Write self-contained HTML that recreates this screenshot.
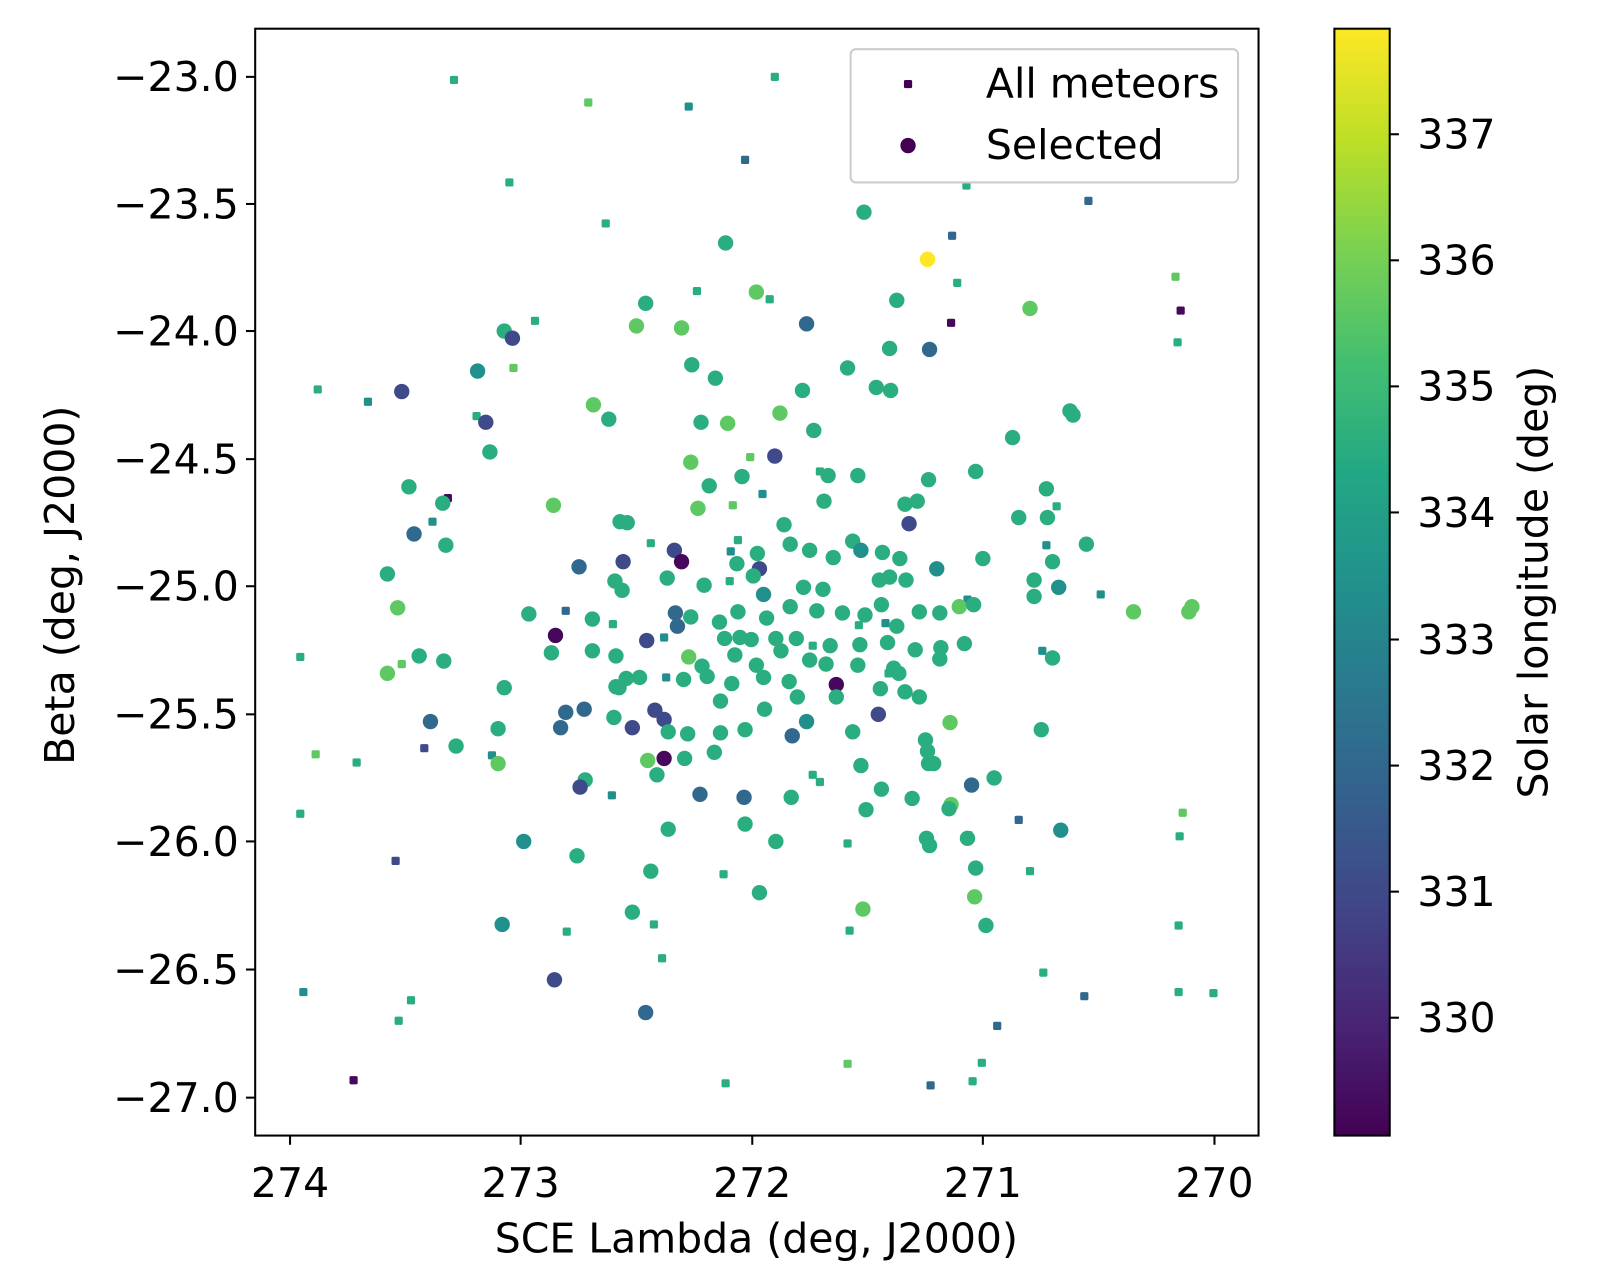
<!DOCTYPE html>
<html><head><meta charset="utf-8"><style>
html,body{margin:0;padding:0;background:#fff;}
svg{display:block;font-family:"DejaVu Sans","Liberation Sans",sans-serif;}
</style></head><body>
<svg id="s" width="1607" height="1277" viewBox="0 0 1568 1246" preserveAspectRatio="none" xmlns="http://www.w3.org/2000/svg">
<defs>
<linearGradient id="vir" x1="0" y1="1" x2="0" y2="0">
<stop offset="0" stop-color="#440154"/><stop offset="0.1" stop-color="#482475"/>
<stop offset="0.2" stop-color="#414487"/><stop offset="0.3" stop-color="#355f8d"/>
<stop offset="0.4" stop-color="#2a788e"/><stop offset="0.5" stop-color="#21918c"/>
<stop offset="0.6" stop-color="#22a884"/><stop offset="0.7" stop-color="#44bf70"/>
<stop offset="0.8" stop-color="#7ad151"/><stop offset="0.9" stop-color="#bddf26"/>
<stop offset="1" stop-color="#fde725"/>
</linearGradient>
</defs>
<rect x="0" y="0" width="1568" height="1246" fill="#fff"/>
<g id="pts"></g>
<rect x="249" y="28" width="979" height="1080" fill="none" stroke="#000" stroke-width="2"/>
<g stroke="#000" stroke-width="2">
<line x1="283" y1="1108" x2="283" y2="1117"/><line x1="508" y1="1108" x2="508" y2="1117"/>
<line x1="734" y1="1108" x2="734" y2="1117"/><line x1="959" y1="1108" x2="959" y2="1117"/>
<line x1="1185" y1="1108" x2="1185" y2="1117"/>
<line x1="240" y1="75" x2="249" y2="75"/><line x1="240" y1="199" x2="249" y2="199"/>
<line x1="240" y1="323" x2="249" y2="323"/><line x1="240" y1="448" x2="249" y2="448"/>
<line x1="240" y1="572" x2="249" y2="572"/><line x1="240" y1="697" x2="249" y2="697"/>
<line x1="240" y1="821" x2="249" y2="821"/><line x1="240" y1="946" x2="249" y2="946"/>
<line x1="240" y1="1071" x2="249" y2="1071"/>
</g>
<g font-size="40" fill="#000" text-anchor="middle">
<text x="283" y="1168">274</text><text x="508" y="1168">273</text><text x="734" y="1168">272</text>
<text x="959" y="1168">271</text><text x="1185" y="1168">270</text>
</g>
<g font-size="40" fill="#000" text-anchor="end">
<text x="233" y="89">−23.0</text><text x="233" y="213">−23.5</text><text x="233" y="337">−24.0</text>
<text x="233" y="462">−24.5</text><text x="233" y="586">−25.0</text><text x="233" y="711">−25.5</text>
<text x="233" y="835">−26.0</text><text x="233" y="960">−26.5</text><text x="233" y="1085">−27.0</text>
</g>
<text x="738" y="1222" font-size="40" text-anchor="middle">SCE Lambda (deg, J2000)</text>
<text transform="translate(72,571) rotate(-90)" font-size="40" text-anchor="middle">Beta (deg, J2000)</text>
<!-- legend -->
<rect x="830" y="48" width="378" height="130" rx="5" fill="#fff" fill-opacity="0.8" stroke="#ccc" stroke-width="2"/>
<rect x="882" y="78" width="8" height="8" rx="1.5" fill="#440154"/>
<circle cx="886" cy="142" r="7.5" fill="#440154"/>
<text x="962" y="95" font-size="40">All meteors</text>
<text x="962" y="155" font-size="40">Selected</text>
<!-- colorbar -->
<rect x="1302" y="28" width="54" height="1080" fill="url(#vir)" stroke="#000" stroke-width="2"/>
<g stroke="#000" stroke-width="2">
<line x1="1356" y1="131" x2="1365" y2="131"/><line x1="1356" y1="254" x2="1365" y2="254"/>
<line x1="1356" y1="377" x2="1365" y2="377"/><line x1="1356" y1="500" x2="1365" y2="500"/>
<line x1="1356" y1="624" x2="1365" y2="624"/><line x1="1356" y1="747" x2="1365" y2="747"/>
<line x1="1356" y1="870" x2="1365" y2="870"/><line x1="1356" y1="993" x2="1365" y2="993"/>
</g>
<g font-size="40" fill="#000">
<text x="1383" y="145">337</text><text x="1383" y="268">336</text><text x="1383" y="391">335</text>
<text x="1383" y="514">334</text><text x="1383" y="638">333</text><text x="1383" y="761">332</text>
<text x="1383" y="884">331</text><text x="1383" y="1007">330</text>
</g>
<text transform="translate(1510,568) rotate(-90)" font-size="40" text-anchor="middle">Solar longitude (deg)</text>
</svg>
<script>
var C={G:"#2aae7f",T:"#21908d",B:"#31688e",I:"#3e4a89",P:"#46085c",L:"#5ec962",Y:"#fde725"};
var sq=[[443,78,"G"],[756,75,"G"],[574,100,"L"],[672,104,"T"],[497,178,"G"],[727,156,"B"],[943,181,"G"],[1062,196,"B"],[591,218,"G"],[929,230,"B"],[680,284,"G"],[751,292,"G"],[934,276,"G"],[522,313,"G"],[928,315,"P"],[1147,270,"L"],[1152,303,"P"],[1149,334,"G"],[501,359,"L"],[310,380,"G"],[359,392,"T"],[465,406,"G"],[732,446,"L"],[800,460,"G"],[715,493,"L"],[744,482,"T"],[437,486,"P"],[422,509,"T"],[1031,494,"G"],[1021,532,"T"],[635,530,"G"],[720,527,"G"],[713,538,"T"],[552,596,"B"],[598,609,"G"],[944,585,"T"],[712,567,"G"],[1074,580,"T"],[293,641,"G"],[392,648,"L"],[648,622,"T"],[650,661,"T"],[838,610,"G"],[864,608,"T"],[1017,635,"T"],[867,657,"G"],[793,630,"G"],[480,737,"T"],[414,730,"I"],[348,744,"G"],[308,736,"L"],[597,776,"T"],[793,756,"G"],[800,763,"G"],[293,794,"G"],[994,800,"B"],[706,853,"G"],[827,823,"G"],[945,815,"G"],[1005,850,"G"],[1154,793,"L"],[1151,816,"G"],[386,840,"I"],[638,902,"G"],[553,909,"G"],[829,908,"G"],[1150,903,"G"],[646,935,"G"],[1018,949,"G"],[296,968,"T"],[401,976,"G"],[389,996,"G"],[1058,972,"B"],[1150,968,"G"],[1184,969,"G"],[973,1001,"B"],[958,1037,"G"],[345,1054,"P"],[708,1057,"G"],[908,1059,"B"],[949,1055,"G"],[827,1038,"L"]];
var ci=[[843,207,"G"],[708,237,"G"],[905,253,"Y"],[738,285,"L"],[787,316,"B"],[630,296,"G"],[621,318,"L"],[665,320,"L"],[492,323,"G"],[500,330,"I"],[875,293,"G"],[1005,301,"L"],[907,341,"B"],[466,362,"T"],[392,382,"I"],[474,412,"I"],[478,441,"G"],[675,356,"G"],[698,369,"G"],[783,381,"G"],[827,359,"G"],[868,340,"G"],[855,378,"G"],[869,381,"G"],[579,395,"L"],[594,409,"G"],[684,412,"G"],[710,413,"L"],[761,403,"L"],[794,420,"G"],[988,427,"G"],[1044,401,"G"],[1047,405,"G"],[756,445,"I"],[674,451,"L"],[399,475,"G"],[692,474,"G"],[724,465,"G"],[808,464,"G"],[837,464,"G"],[906,468,"G"],[952,460,"G"],[1021,477,"G"],[540,493,"L"],[432,491,"G"],[404,521,"B"],[435,532,"G"],[605,509,"G"],[612,510,"G"],[681,496,"L"],[765,512,"G"],[804,489,"G"],[883,492,"G"],[895,489,"G"],[887,511,"I"],[994,505,"G"],[1022,505,"G"],[959,545,"G"],[1060,531,"G"],[378,560,"G"],[565,553,"B"],[608,548,"I"],[658,537,"I"],[665,548,"P"],[600,567,"G"],[651,564,"G"],[687,571,"G"],[719,550,"G"],[739,540,"G"],[771,531,"G"],[790,537,"G"],[813,544,"G"],[832,528,"G"],[840,537,"T"],[861,539,"G"],[878,545,"G"],[914,555,"T"],[1027,548,"G"],[388,593,"L"],[516,599,"G"],[607,576,"G"],[659,598,"B"],[741,555,"I"],[735,562,"G"],[745,580,"T"],[784,573,"G"],[803,575,"G"],[858,566,"G"],[868,563,"G"],[884,566,"G"],[1009,566,"G"],[1009,582,"G"],[1033,573,"T"],[936,592,"L"],[950,590,"G"],[1106,597,"L"],[1160,597,"L"],[1163,592,"L"],[542,620,"P"],[578,604,"G"],[661,611,"B"],[674,602,"G"],[702,607,"G"],[720,597,"G"],[748,603,"G"],[771,592,"G"],[797,596,"G"],[822,598,"G"],[844,600,"G"],[860,590,"G"],[875,611,"G"],[897,597,"G"],[917,598,"G"],[707,623,"G"],[722,622,"G"],[733,624,"G"],[757,623,"G"],[777,623,"G"],[810,630,"G"],[839,629,"G"],[866,627,"G"],[893,634,"G"],[918,632,"G"],[941,628,"G"],[409,640,"G"],[433,645,"G"],[378,657,"L"],[538,637,"G"],[578,635,"G"],[601,640,"G"],[631,625,"I"],[672,641,"L"],[685,650,"G"],[717,639,"G"],[738,649,"G"],[762,635,"G"],[790,644,"G"],[806,648,"G"],[837,649,"G"],[872,652,"G"],[917,643,"G"],[1027,642,"G"],[492,671,"G"],[601,670,"G"],[611,662,"G"],[624,661,"G"],[604,671,"G"],[667,663,"G"],[690,660,"G"],[714,667,"G"],[745,661,"G"],[770,665,"G"],[816,668,"P"],[859,672,"G"],[877,657,"G"],[420,704,"B"],[552,695,"B"],[570,692,"B"],[599,700,"G"],[639,693,"I"],[648,702,"I"],[703,684,"G"],[746,692,"G"],[778,680,"G"],[816,680,"G"],[857,697,"I"],[883,675,"G"],[897,680,"G"],[927,705,"L"],[1016,712,"G"],[486,711,"G"],[547,710,"B"],[617,710,"I"],[652,714,"G"],[671,716,"G"],[703,715,"G"],[727,712,"G"],[773,718,"B"],[787,704,"T"],[832,714,"G"],[903,722,"G"],[445,728,"G"],[486,745,"L"],[632,742,"L"],[648,740,"P"],[641,756,"G"],[668,740,"G"],[697,734,"G"],[840,747,"G"],[905,733,"G"],[906,745,"G"],[911,745,"G"],[571,761,"G"],[566,768,"I"],[683,775,"B"],[726,778,"B"],[772,778,"G"],[860,770,"G"],[890,779,"G"],[970,759,"G"],[928,785,"L"],[948,766,"B"],[926,789,"G"],[652,809,"G"],[727,804,"G"],[757,821,"G"],[845,790,"G"],[904,818,"G"],[907,825,"G"],[944,818,"G"],[1035,810,"T"],[511,821,"T"],[563,835,"G"],[635,850,"G"],[952,847,"G"],[741,871,"G"],[951,875,"L"],[617,890,"G"],[842,887,"L"],[962,903,"G"],[490,902,"T"],[541,956,"I"],[630,988,"B"]];
var g=document.getElementById("pts"),h="";
sq.forEach(function(p){h+='<rect x="'+(p[0]-4)+'" y="'+(p[1]-4)+'" width="8" height="8" rx="1.5" fill="'+C[p[2]]+'"/>';});
ci.forEach(function(p){h+='<circle cx="'+p[0]+'" cy="'+p[1]+'" r="7.5" fill="'+C[p[2]]+'"/>';});
g.innerHTML=h;
</script>
</body></html>
